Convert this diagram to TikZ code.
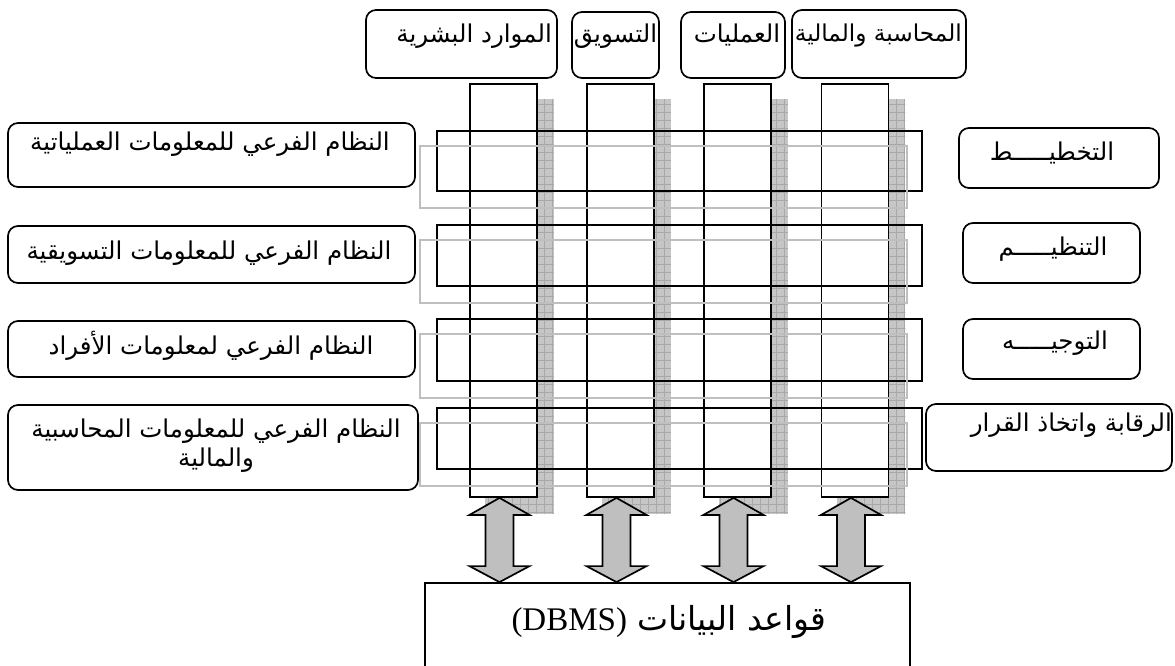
\documentclass[tikz,border=0pt]{standalone}
\usepackage{fontspec}
\setmainfont{Liberation Serif}
\newfontfamily\arabicfont[Script=Arabic]{DejaVu Sans}
\TeXXeTstate=1
\usetikzlibrary{calc,backgrounds}

% right-to-left Arabic run
\newcommand\artext[1]{{\arabicfont\beginR #1\endR}}

% double-headed block arrow between two coordinates (top, bottom)
\newcommand\dbarrow[2]{%
  \filldraw[blockarrow] let \p1=(#1), \p2=(#2) in
    (\x1,\y1) -- (\x1+30pt,\y1-17pt) -- (\x1+14pt,\y1-17pt) --
    (\x1+14pt,\y2+16pt) -- (\x1+30pt,\y2+16pt) -- (\x1,\y2) --
    (\x1-30pt,\y2+16pt) -- (\x1-14pt,\y2+16pt) -- (\x1-14pt,\y1-17pt) --
    (\x1-30pt,\y1-17pt) -- cycle;}

\tikzset{
  rbox/.style={draw, line width=1.7pt, rounded corners=10pt, inner sep=0pt},
  colbox/.style={draw, line width=1.8pt, fill=white, inner sep=0pt,
    minimum width=67pt, minimum height=413pt},
  barbox/.style={draw, line width=1.8pt, inner sep=0pt,
    minimum width=485pt},
  greyline/.style={draw=gray!50, line width=1.5pt},
  shadowfill/.style={fill=gray!45},
  shadowgrid/.style={draw=gray!68, line width=0.6pt},
  blockarrow/.style={draw, line width=1.7pt, fill=gray!50, line join=miter},
  lbl/.style={inner sep=0pt, yshift=-3pt, font=\fontsize{24.5}{29}\selectfont},
  biglbl/.style={inner sep=0pt, font=\fontsize{33}{36}\selectfont},
}

\begin{document}
\begin{tikzpicture}[x=1pt,y=-1pt]
\useasboundingbox (0,0) rectangle (1175,665);

% functional areas along the top
\node[rbox, minimum width=191pt, minimum height=68pt] (hr) at (461.5,44) {};
\node[rbox, minimum width=87pt,  minimum height=66pt] (mk) at (615.5,45) {};
\node[rbox, minimum width=104pt, minimum height=66pt] (op) at (733,45) {};
\node[rbox, minimum width=174pt, minimum height=68pt] (ac) at (879,44) {};
\node[lbl, anchor=base east] (hrt) at (552,39) {\artext{الموارد البشرية}};
\node[lbl, anchor=base] (mkt) at (615.5,39) {\artext{التسويق}};
\node[lbl, anchor=base] (opt) at (737,39) {\artext{العمليات}};
\node[lbl, font=\fontsize{23.2}{29}\selectfont, anchor=base east] (act) at (962,38)
  {\artext{المحاسبة والمالية}};

% vertical columns
\node[colbox] (c1) at (503.5,290.5) {};
\node[colbox] (c2) at (620.5,290.5) {};
\node[colbox] (c3) at (737.5,290.5) {};
\node[colbox] (c4) at (855,290.5) {};

% shaded offsets of the columns
\begin{scope}[on background layer]
  \foreach \c in {c1,c2,c3,c4} {
    \begin{scope}
      \clip ($(\c.north west)+(16,16)$) rectangle ($(\c.south east)+(16,16)$);
      \fill[shadowfill] ($(\c.north west)+(16,16)$) rectangle ($(\c.south east)+(16,16)$);
      \draw[shadowgrid, step=8pt] ($(\c.north west)+(8,8)$) grid ($(\c.south east)+(24,24)$);
    \end{scope}
  }
\end{scope}

% horizontal bars
\node[barbox, minimum height=60pt] (b1) at (679.5,161) {};
\node[barbox, minimum height=61pt] (b2) at (679.5,255.5) {};
\node[barbox, minimum height=62pt] (b3) at (679.5,350) {};
\node[barbox, minimum height=61pt] (b4) at (679.5,438.5) {};
\foreach \b in {b1,b2,b3,b4}
  \draw[greyline] ($(\b.north west)+(-16,16)$) rectangle ($(\b.south east)+(-16,16)$);

% subsystems on the left
\node[rbox, minimum width=407pt, minimum height=64pt] (l1) at (211.5,155) {};
\node[rbox, minimum width=407pt, minimum height=57pt] (l2) at (211.5,254.5) {};
\node[rbox, minimum width=407pt, minimum height=56pt] (l3) at (211.5,349) {};
\node[rbox, minimum width=410pt, minimum height=85pt] (l4) at (213,447.5) {};
\node[lbl, anchor=base] (l1t) at (210,147) {\artext{النظام الفرعي للمعلومات العملياتية}};
\node[lbl, anchor=base] (l2t) at (209,256) {\artext{النظام الفرعي للمعلومات التسويقية}};
\node[lbl, anchor=base] (l3t) at (211,351) {\artext{النظام الفرعي لمعلومات الأفراد}};
\node[lbl, anchor=base] (l4t) at (216,434) {\artext{النظام الفرعي للمعلومات المحاسبية}};
\node[lbl, anchor=base] (l4u) at (216,463) {\artext{والمالية}};

% management functions on the right
\node[rbox, minimum width=200pt, minimum height=60pt] (r1) at (1059,158) {};
\node[rbox, minimum width=177pt, minimum height=60pt] (r2) at (1051.5,253) {};
\node[rbox, minimum width=177pt, minimum height=60pt] (r3) at (1051.5,349) {};
\node[rbox, minimum width=246pt, minimum height=67pt] (r4) at (1049,437.5) {};
\node[lbl, anchor=base] (r1t) at (1052,157) {\artext{التخطيـــــط}};
\node[lbl, anchor=base] (r2t) at (1053,252) {\artext{التنظيـــــم}};
\node[lbl, anchor=base] (r3t) at (1055,346) {\artext{التوجيـــــه}};
\node[lbl, anchor=base east] (r4t) at (1172,428) {\artext{الرقابة واتخاذ القرار}};

% database at the bottom
\node[draw, line width=1.8pt, inner sep=0pt, minimum width=485pt, minimum height=137pt] (db) at (667.5,651.5) {};
\node[biglbl, anchor=base] (dbt) at (669,630)
  {{\arabicfont\beginR قواعد البيانات \beginL\rmfamily(DBMS)\endL\endR}};

% two-way links between the columns and the database
\foreach \i/\c in {1/c1,2/c2,3/c3,4/c4} {
  \coordinate (a\i t) at ($(\c.south)+(-4,0)$);
  \coordinate (a\i b) at (a\i t |- db.north);
  \dbarrow{a\i t}{a\i b}
}
\end{tikzpicture}
\end{document}
